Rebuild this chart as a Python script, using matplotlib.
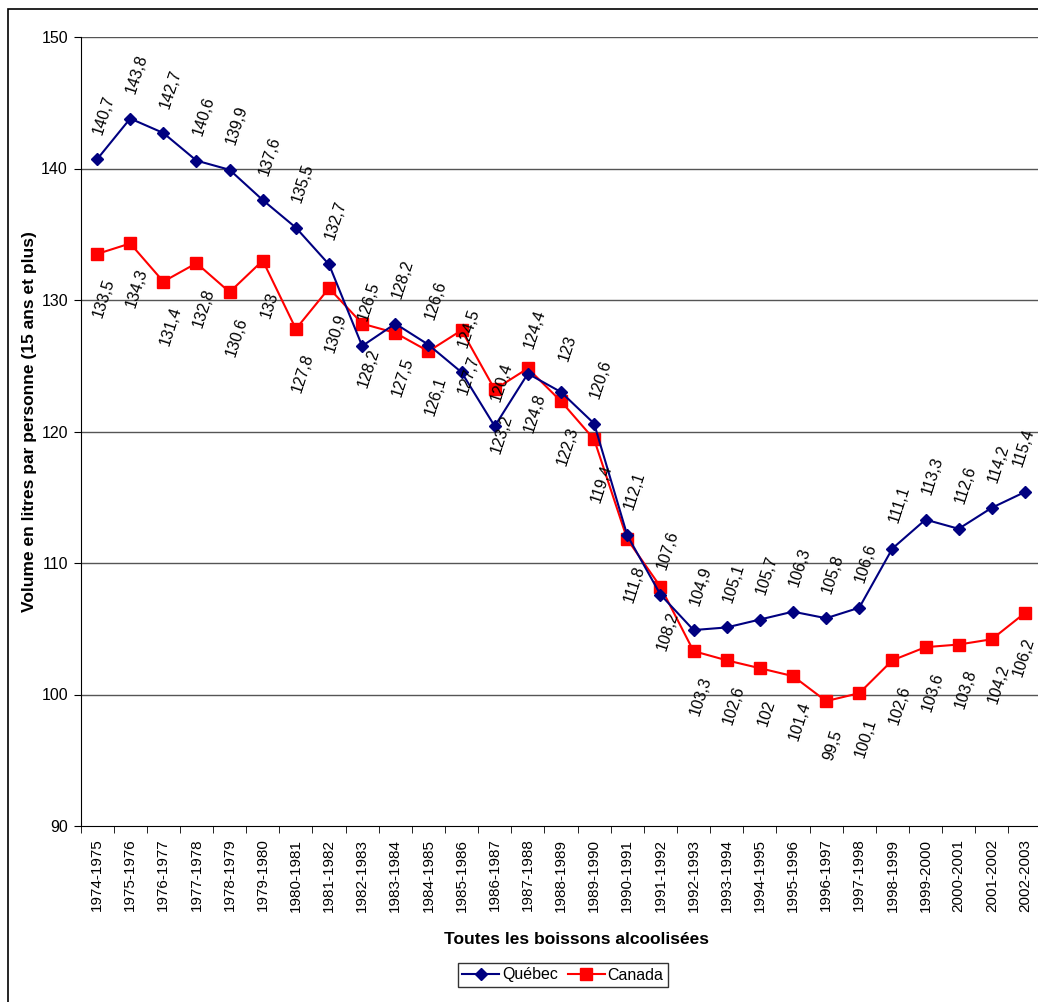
import matplotlib
matplotlib.use("Agg")
import matplotlib.pyplot as plt
import matplotlib.patches as patches
import numpy as np

plt.rcParams['font.family'] = ['Liberation Sans', 'DejaVu Sans']

# Data
periodes = ["1974-1975", "1975-1976", "1976-1977", "1977-1978", "1978-1979",
            "1979-1980", "1980-1981", "1981-1982", "1982-1983", "1983-1984",
            "1984-1985", "1985-1986", "1986-1987", "1987-1988", "1988-1989",
            "1989-1990", "1990-1991", "1991-1992", "1992-1993", "1993-1994",
            "1994-1995", "1995-1996", "1996-1997", "1997-1998", "1998-1999",
            "1999-2000", "2000-2001", "2001-2002", "2002-2003"]
quebec = [140.7, 143.8, 142.7, 140.6, 139.9, 137.6, 135.5, 132.7, 126.5, 128.2,
          126.6, 124.5, 120.4, 124.4, 123, 120.6, 112.1, 107.6, 104.9, 105.1,
          105.7, 106.3, 105.8, 106.6, 111.1, 113.3, 112.6, 114.2, 115.4]
canada = [133.5, 134.3, 131.4, 132.8, 130.6, 133, 127.8, 130.9, 128.2, 127.5,
          126.1, 127.7, 123.2, 124.8, 122.3, 119.4, 111.8, 108.2, 103.3, 102.6,
          102, 101.4, 99.5, 100.1, 102.6, 103.6, 103.8, 104.2, 106.2]
yticks = [90, 100, 110, 120, 130, 140, 150]


def fmt(v):
    return f"{v:g}".replace('.', ',')


W, H = 1038, 1002
fig = plt.figure(figsize=(W / 100, H / 100), dpi=100)

# outer frame (cut off on right/bottom like the original)
fig.patches.append(patches.Rectangle((8 / W, -0.01), 1.05, 1 - 9 / H + 0.01,
                                     transform=fig.transFigure, fill=False,
                                     edgecolor='black', linewidth=1.2))

left, right, top, bottom = 80.5, 1041.5, 37, 826
ax = fig.add_axes([left / W, 1 - bottom / H, (right - left) / W, (bottom - top) / H])

x = np.arange(len(periodes))
ax.plot(x, quebec, color='#000080', lw=1.5, marker='D', ms=6,
        markerfacecolor='#000080', markeredgecolor='#000080', label='Québec', zorder=4)
ax.plot(x, canada, color='#FF0000', lw=1.5, marker='s', ms=8,
        markerfacecolor='#FF0000', markeredgecolor='#FF0000', label='Canada', zorder=3)

# data labels, rotated, centred above (Québec) / below (Canada) each point
last = len(x) - 1
for xi, v in zip(x, quebec):
    dx = 5 if xi < last else -1
    ax.annotate(fmt(v), (xi, v), xytext=(dx, 32), textcoords='offset points',
                rotation=72, rotation_mode='anchor', ha='center', va='center',
                fontsize=11.5, zorder=5, annotation_clip=False)
for xi, v in zip(x, canada):
    dx = 5 if xi < last else -1
    ax.annotate(fmt(v), (xi, v), xytext=(dx, -32), textcoords='offset points',
                rotation=72, rotation_mode='anchor', ha='center', va='center',
                fontsize=11.5, zorder=5, annotation_clip=False)

ax.set_xlim(-0.5, len(periodes) - 0.5)
ax.set_ylim(90, 150)
ax.set_yticks(yticks)
ax.set_yticklabels([str(t) for t in yticks], fontsize=11.5)
for t in yticks[1:]:
    ax.axhline(t, color='#555555', lw=1, zorder=1)

ax.set_xticks(x)
ax.set_xticklabels(periodes, rotation=90, fontsize=11)
ax.set_xticks(np.arange(len(periodes) + 1) - 0.5, minor=True)
ax.tick_params(axis='x', which='major', length=0, pad=9)
ax.tick_params(axis='x', which='minor', length=5, direction='out', color='black')
ax.tick_params(axis='y', length=5, direction='out', color='black', pad=4)

ax.spines['top'].set_visible(False)
ax.spines['right'].set_visible(False)
ax.spines['left'].set_color('black')
ax.spines['bottom'].set_color('black')

fig.text(30 / W, 1 - 422 / H, "Volume en litres par personne (15 ans et plus)",
         rotation=90, ha='center', va='center', fontsize=12.5, fontweight='bold')
fig.text(577 / W, 1 - 940 / H, "Toutes les boissons alcoolisées", ha='center',
         va='center', fontsize=12.5, fontweight='bold')

leg = fig.legend(loc='center', bbox_to_anchor=(563 / W, 1 - 975 / H), ncol=2,
                 fontsize=11.5, frameon=True, fancybox=False, edgecolor='black',
                 handlelength=2.3, handletextpad=0.2, columnspacing=0.6,
                 borderpad=0.3, borderaxespad=0)
leg.get_frame().set_linewidth(1)

fig.savefig("out.png", dpi=100)
